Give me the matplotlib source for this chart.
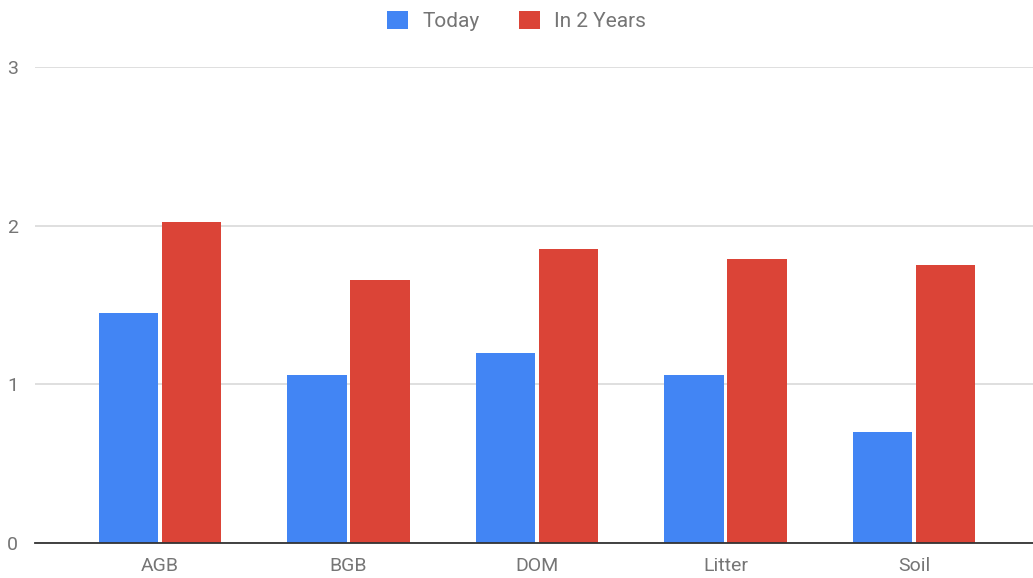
import matplotlib
matplotlib.use("Agg")
import matplotlib.pyplot as plt
import numpy as np
from matplotlib.patches import Patch

categories = ["AGB", "BGB", "DOM", "Litter", "Soil"]
today = [1.45, 1.06, 1.20, 1.06, 0.70]
in_2_years = [2.02, 1.66, 1.85, 1.79, 1.75]
series_names = ["Today", "In 2 Years"]
yticks = [0, 1, 2, 3]

plt.rcParams['font.family'] = ['Roboto', 'DejaVu Sans']

fig = plt.figure(figsize=(10.33, 5.78), dpi=100)
ax = fig.add_axes([35/1033, 35/578, 1 - 35/1033, (543-67)/578])

x = np.arange(len(categories))
w = 0.315
off = 0.167
ax.bar(x - off, today, width=w, color="#4285F4", zorder=3)
ax.bar(x + off, in_2_years, width=w, color="#DB4437", zorder=3)

ax.set_xlim(-0.663, 4.631)
ax.set_ylim(0, 3)
ax.set_yticks(yticks)
ax.set_yticklabels([str(t) for t in yticks])
ax.set_xticks(x)
ax.set_xticklabels(categories)

for s in ["top", "right", "left"]:
    ax.spines[s].set_visible(False)
ax.spines["bottom"].set_color("#333333")
ax.spines["bottom"].set_linewidth(1.3)
ax.spines["bottom"].set_zorder(4)
ax.grid(axis="y", color="#d9d9d9", linewidth=1.2, zorder=0)
ax.tick_params(axis="both", length=0, labelsize=14, colors="#757575")
ax.tick_params(axis="y", pad=12)
ax.tick_params(axis="x", pad=10)

handles = [Patch(facecolor="#4285F4", edgecolor="none"),
           Patch(facecolor="#DB4437", edgecolor="none")]
leg = fig.legend(handles, series_names, loc="center", bbox_to_anchor=(0.5, 1 - 21/578),
                 ncol=2, frameon=False, fontsize=15, handlelength=1.0, handleheight=1.0,
                 handletextpad=0.7, columnspacing=1.9, labelcolor="#757575")

fig.savefig("out.png", dpi=100, facecolor="white")
